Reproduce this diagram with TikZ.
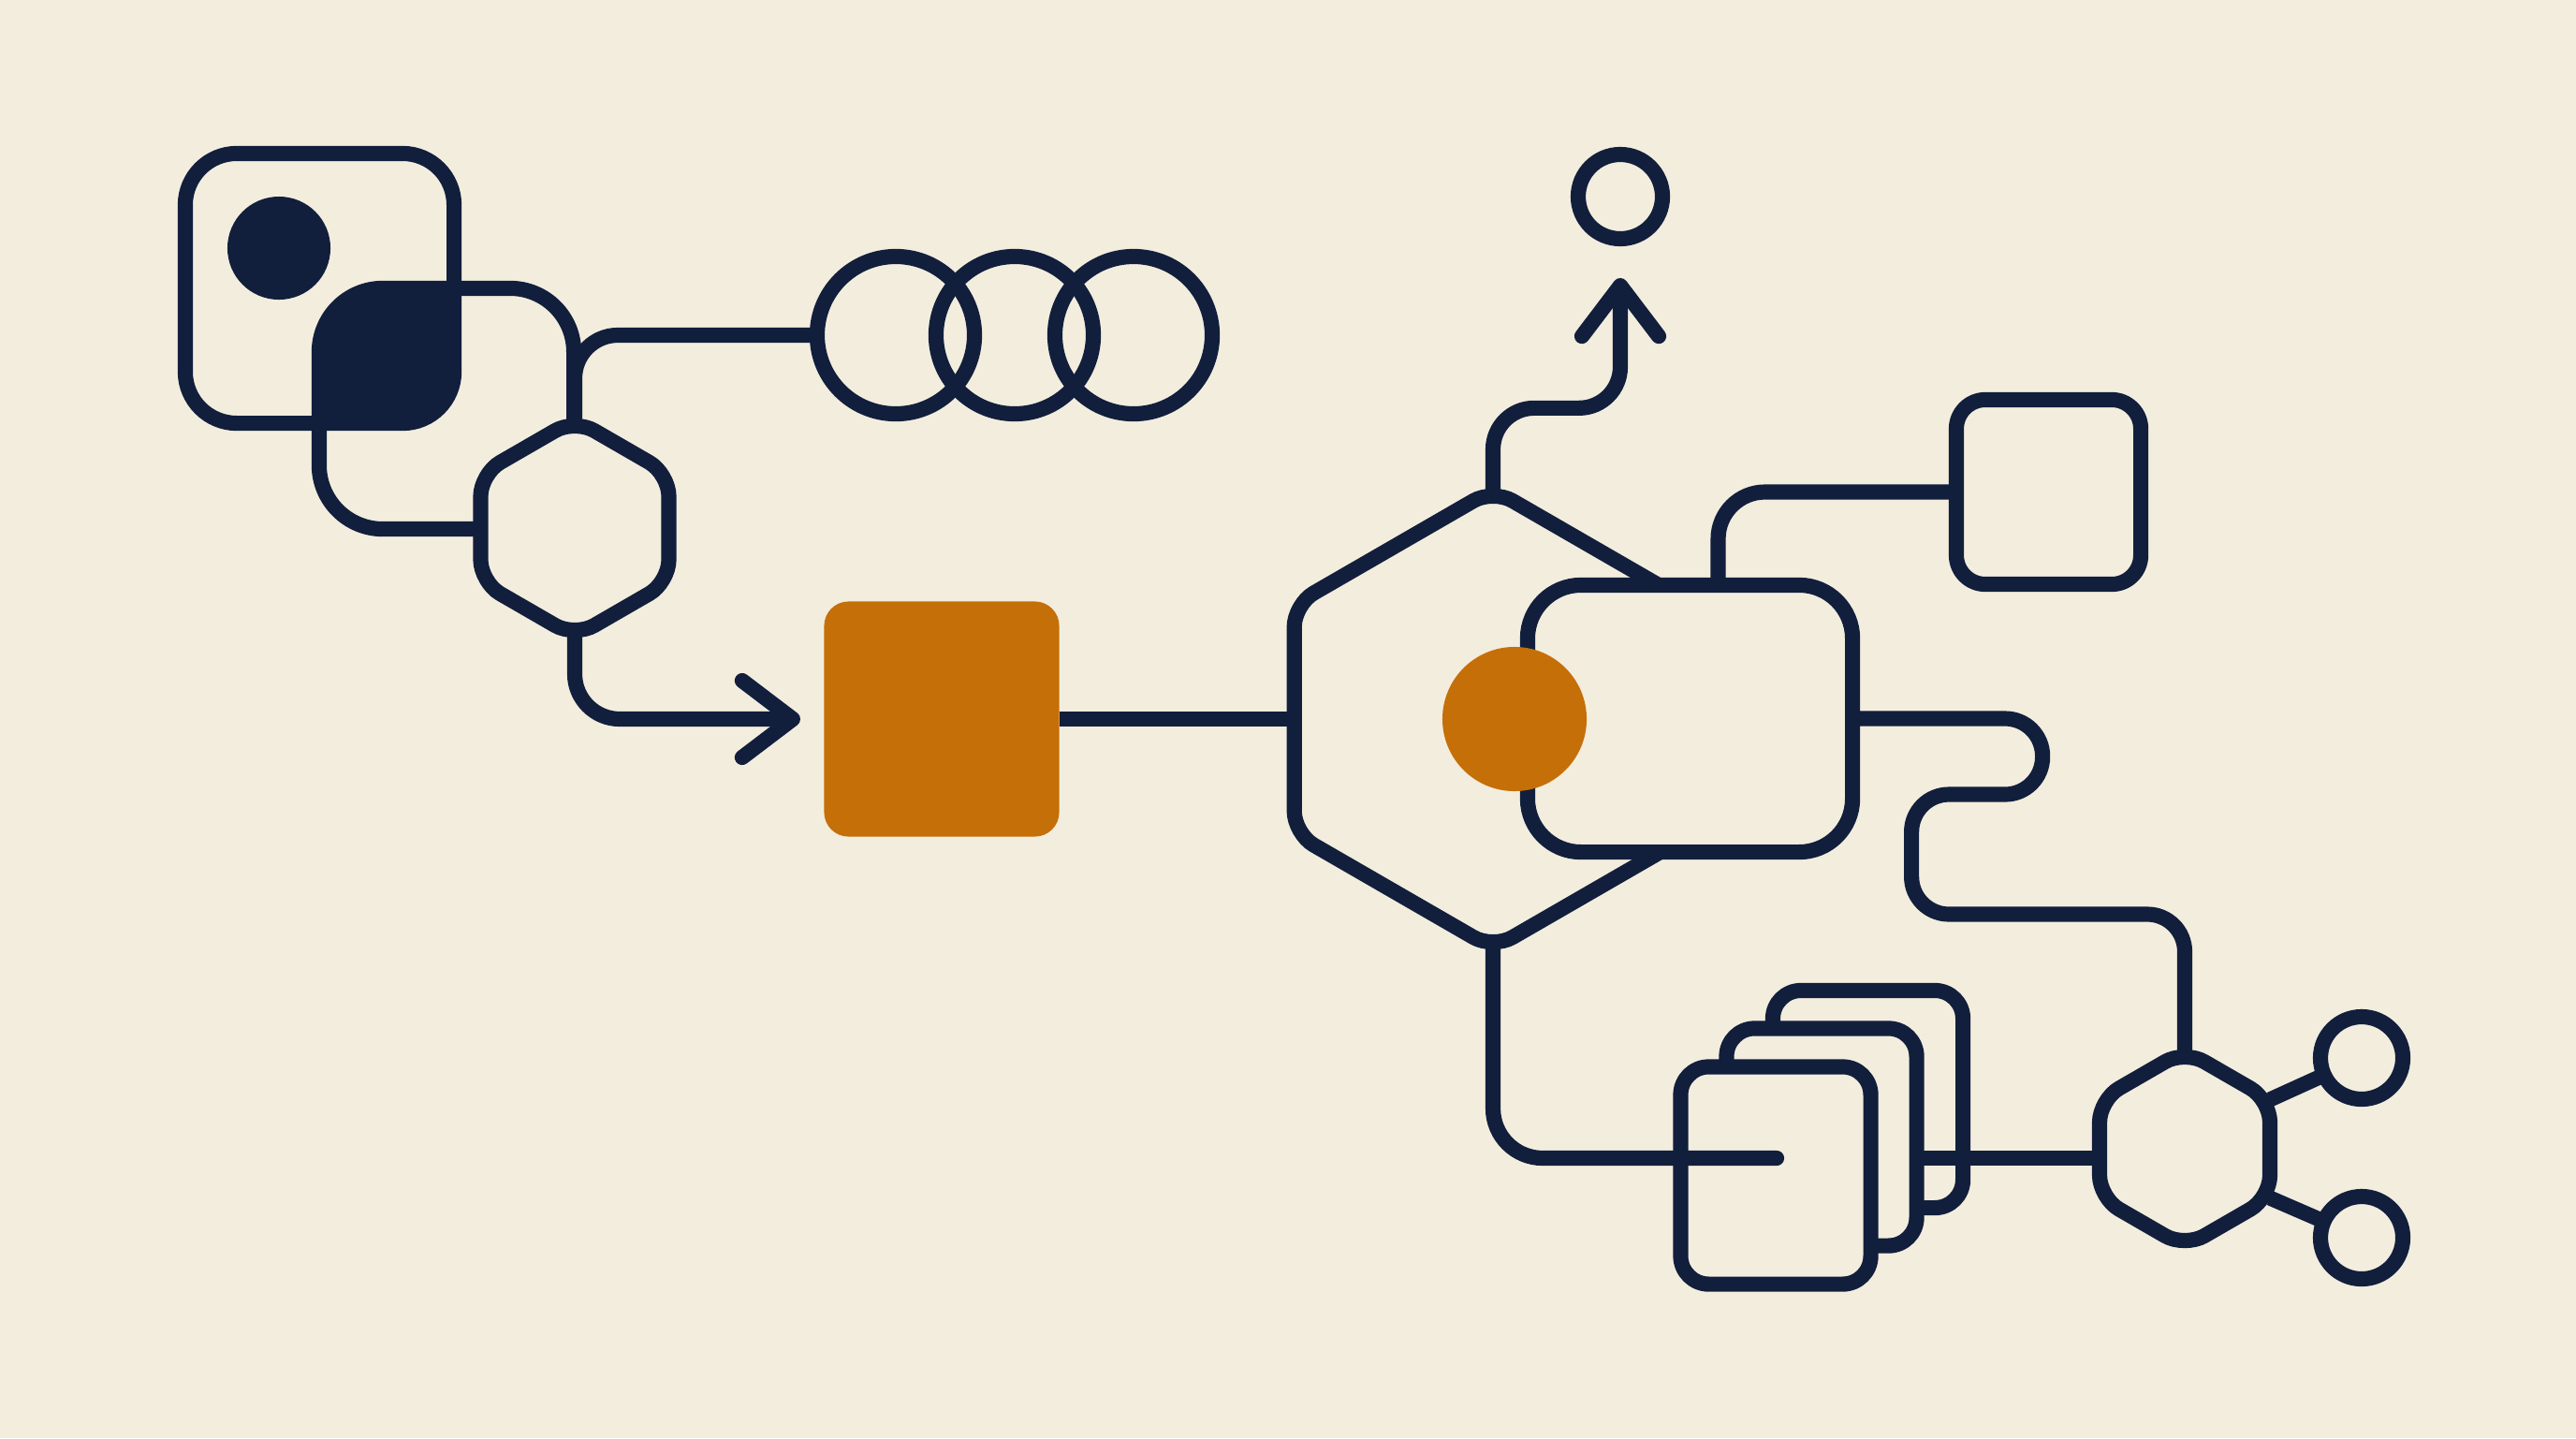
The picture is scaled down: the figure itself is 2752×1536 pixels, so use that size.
\documentclass[tikz,border=0pt]{standalone}
\usepackage{tikz}
\usetikzlibrary{arrows.meta,positioning,shapes.geometric}

\definecolor{paper}{RGB}{243,237,222}
\definecolor{ink}{RGB}{18,31,60}
\definecolor{amber}{RGB}{197,111,8}

\begin{document}
\begin{tikzpicture}
[x=0.01cm,y=-0.01cm,line width=4.6pt,
  every node/.style={inner sep=0pt,outer sep=0pt},
  box/.style={draw=ink,rectangle,rounded corners=#1},
  box/.default=5mm,
  hexa/.style={draw=ink,fill=paper,regular polygon,regular polygon sides=6,
    shape border rotate=90,rounded corners=2.4mm,minimum size=#1},
  ring/.style={draw=ink,circle,minimum size=#1},
  wire/.style={draw=ink,rounded corners=#1},
  wire/.default=4.5mm,
  tip/.style={-{Straight Barb[length=5.4mm,width=8.2mm,round]}}]

  \fill[paper] (0,0) rectangle (2752,1536);
  \useasboundingbox (0,0) rectangle (2752,1536);

  % top left cluster
  \node[box=5.5mm,minimum width=2.87cm,minimum height=2.88cm] (frame) at (341.5,308) {};
  \node[box=6.8mm,minimum width=2.72cm,minimum height=2.57cm] (link) at (477,436.5) {};
  \begin{scope}
    \clip[rounded corners=5.5mm] (frame.north west) rectangle (frame.south east);
    \fill[ink,rounded corners=6.8mm] (link.north west) rectangle (link.south east);
  \end{scope}
  \node[circle,fill=ink,minimum size=1.1cm] (dot) at (298,265) {};
  \node[hexa=2.32cm] (hexa1) at (614,564) {};

  \node[ring=1.68cm] (ring1) at (957,358) {};
  \node[ring=1.68cm] (ring2) at (1084,358) {};
  \node[ring=1.68cm] (ring3) at (1211,358) {};

  \node[rectangle,fill=amber,rounded corners=2.6mm,minimum size=2.51cm] (block) at (1006,768) {};
  \coordinate (aim) at (855,768);

  % centre
  \node[hexa=4.9cm] (hexa2) at (1595,768) {};
  \node[box=5.7mm,fill=paper,minimum width=3.47cm,minimum height=2.85cm] (panel) at (1805.5,767.5) {};
  \node[circle,fill=amber,minimum size=1.54cm] (sun) at (1618,768) {};

  \node[ring=0.9cm] (goal) at (1731,210) {};
  \coordinate (rise) at (1731,297);
  \node[box=3.1mm,minimum size=1.97cm] (tile) at (2188.5,525.5) {};

  % stacked cards
  \node[box=3mm,fill=paper,minimum width=2.03cm,minimum height=2.32cm] (back) at (1995.5,1174) {};
  \node[box=3mm,fill=paper,minimum width=2.03cm,minimum height=2.32cm] (mid) at (1946,1214.5) {};
  \node[box=3mm,fill=paper,minimum width=2.03cm,minimum height=2.32cm] (front) at (1897,1255.5) {};
  \coordinate (tap) at (1898,1237);

  \node[hexa=2.1cm] (hexa3) at (2334,1227) {};
  \node[ring=0.88cm] (bead1) at (2523,1130) {};
  \node[ring=0.88cm] (bead2) at (2523,1322) {};

  \draw[wire=4.6mm] (hexa1.north) |- (ring1.west);
  \draw[wire=4.8mm,tip] (hexa1.south) |- (aim);
  \draw[wire=4.4mm,tip] (hexa2.north) -- ++(0,-87) -| (rise);
  \draw[wire=5mm] ([xshift=3mm]panel.north) |- (tile.west);
  \draw[wire=4mm] (panel.east) -- ++(203,0) -- ++(0,81) -- ++(-140,0) -- ++(0,128) -| (hexa3.north);
  \draw[wire=5.3mm,line cap=round] (hexa2.south) |- (tap);
  \draw[wire] (hexa3.west |- tap) -- (mid.east |- tap);

  \foreach \from/\to in {block.east/hexa2.west, hexa3.30/bead1, hexa3.-30/bead2}
    \draw[wire] (\from) -- (\to);

\end{tikzpicture}
\end{document}
